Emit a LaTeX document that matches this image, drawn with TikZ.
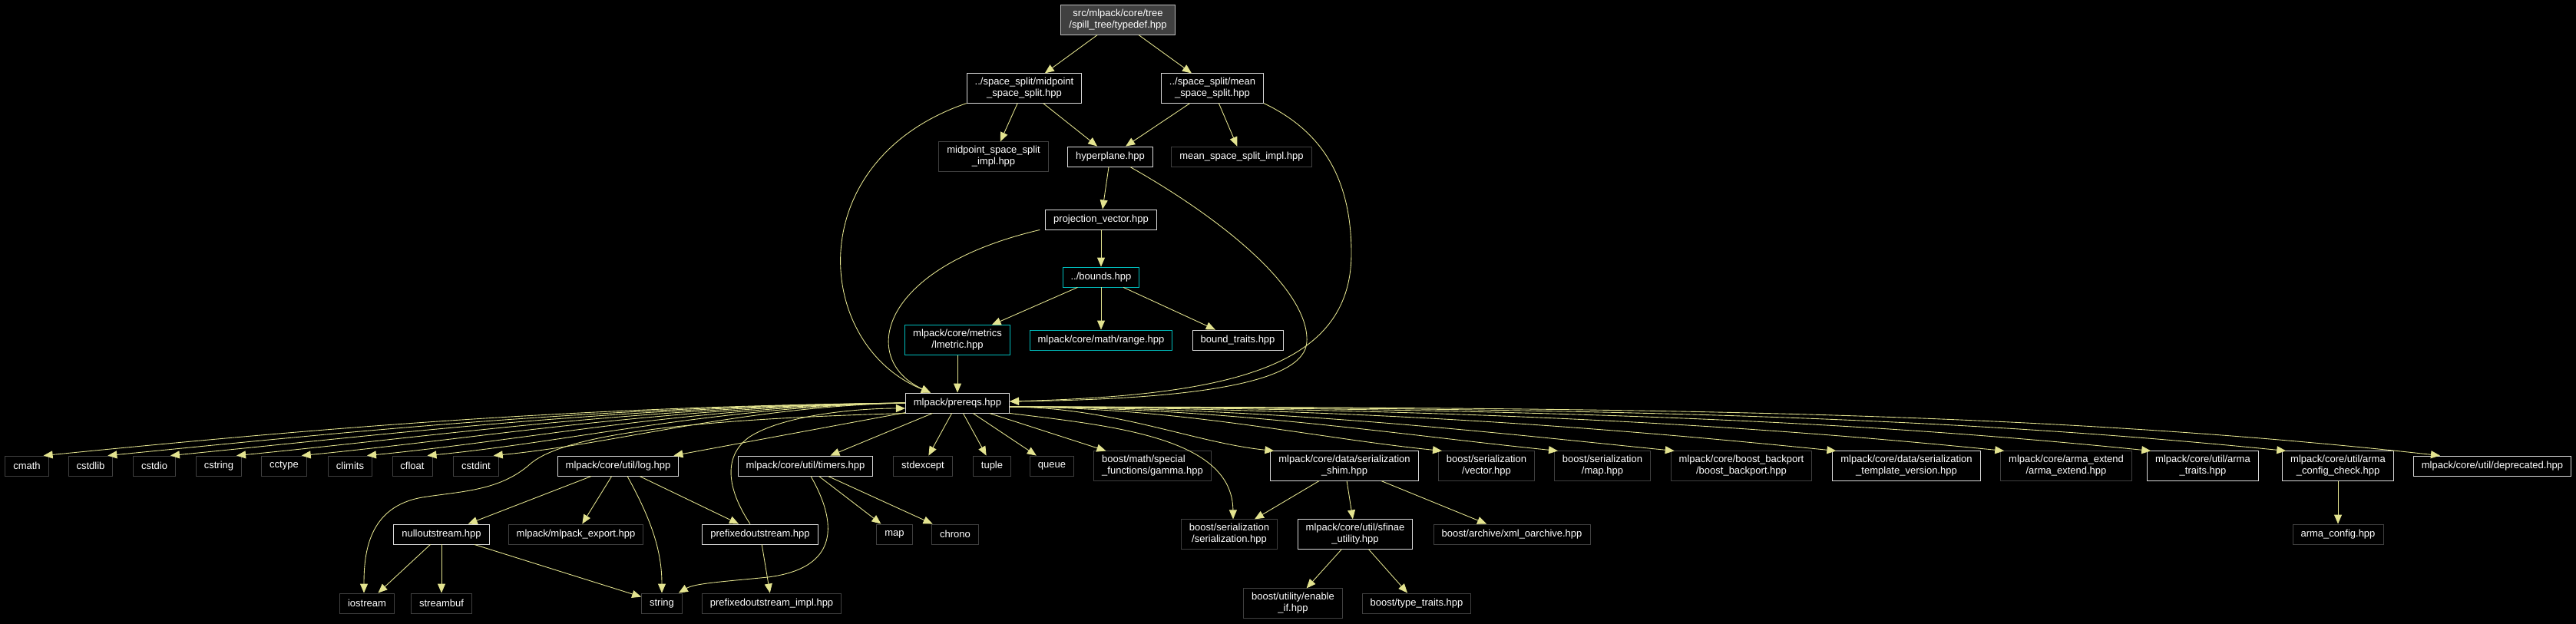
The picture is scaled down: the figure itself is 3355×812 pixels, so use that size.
\documentclass[tikz,border=0pt]{standalone}
\usepackage{fontspec}
\setmainfont{Liberation Sans}
\usepackage{tikz}
\usetikzlibrary{arrows.meta}
\definecolor{EdgeYellow}{HTML}{E3E38F}
\definecolor{DocGrey}{HTML}{D9D9D9}
\definecolor{SysGrey}{HTML}{404040}
\definecolor{RootFill}{HTML}{404040}
\definecolor{LinkCyan}{HTML}{00BDBD}
\tikzset{
  file/.style={draw=DocGrey,line width=0.5pt,fill=black,text=white,
    font=\fontsize{7.4pt}{8.6pt}\selectfont,align=center,
    inner xsep=2.1mm,inner ysep=1.1mm,minimum height=5.2mm},
  sysfile/.style={file,draw=SysGrey},
  linkfile/.style={file,draw=LinkCyan},
  rootfile/.style={file,fill=RootFill,draw=white!75!black},
  edge/.style={draw=EdgeYellow,line width=0.5pt,-{Triangle[length=2.4mm,width=2mm]}}
}
\begin{document}
\begin{tikzpicture}[x=0.2mm,y=-0.2mm]
\useasboundingbox (0,0) rectangle (3355,812);
\fill[black] (-20,-20) rectangle (3375,832);
% upper part
\node[rootfile] (typedef) at (1456,26) {src/mlpack/core/tree\\/spill\_tree/typedef.hpp};
\node[file] (midpoint) at (1334,115) {../space\_split/midpoint\\\_space\_split.hpp};
\node[file] (mean) at (1579,115) {../space\_split/mean\\\_space\_split.hpp};
\node[sysfile] (midimpl) at (1294,204) {midpoint\_space\_split\\\_impl.hpp};
\node[file] (hyperplane) at (1446,204) {hyperplane.hpp};
\node[sysfile] (meanimpl) at (1617,204) {mean\_space\_split\_impl.hpp};
\node[file] (projection) at (1434,286) {projection\_vector.hpp};
\node[linkfile] (bounds) at (1434,361) {../bounds.hpp};
\node[linkfile] (lmetric) at (1247,443) {mlpack/core/metrics\\/lmetric.hpp};
\node[linkfile] (range) at (1434,443) {mlpack/core/math/range.hpp};
\node[file] (btraits) at (1612,443) {bound\_traits.hpp};
\node[file] (prereqs) at (1247,525) {mlpack/prereqs.hpp};
% first row
\node[sysfile] (cmath) at (35,607) {cmath};
\node[sysfile] (cstdlib) at (118,607) {cstdlib};
\node[sysfile] (cstdio) at (201,607) {cstdio};
\node[sysfile] (cstring) at (285,607) {cstring};
\node[sysfile] (cctype) at (370,607) {cctype};
\node[sysfile] (climits) at (456,607) {climits};
\node[sysfile] (cfloat) at (537,607) {cfloat};
\node[sysfile] (cstdint) at (620,607) {cstdint};
\node[file] (log) at (805,607) {mlpack/core/util/log.hpp};
\node[file] (timers) at (1049,607) {mlpack/core/util/timers.hpp};
\node[sysfile] (stdexcept) at (1202,607) {stdexcept};
\node[sysfile] (tuple) at (1292,607) {tuple};
\node[sysfile] (queue) at (1370,607) {queue};
\node[sysfile,align=left] (gamma) at (1501,607) {boost/math/special\\\_functions/gamma.hpp};
\node[file] (shim) at (1751,607) {mlpack/core/data/serialization\\\_shim.hpp};
\node[sysfile] (vector) at (1936,607) {boost/serialization\\/vector.hpp};
\node[sysfile] (bmap) at (2087,607) {boost/serialization\\/map.hpp};
\node[sysfile] (backport) at (2268,607) {mlpack/core/boost\_backport\\/boost\_backport.hpp};
\node[file] (tversion) at (2483,607) {mlpack/core/data/serialization\\\_template\_version.hpp};
\node[sysfile] (armaext) at (2691,607) {mlpack/core/arma\_extend\\/arma\_extend.hpp};
\node[file] (armatraits) at (2869,607) {mlpack/core/util/arma\\\_traits.hpp};
\node[file] (armacheck) at (3045,607) {mlpack/core/util/arma\\\_config\_check.hpp};
\node[file] (deprecated) at (3246,607) {mlpack/core/util/deprecated.hpp};
% second row
\node[file] (nullout) at (575,696) {nulloutstream.hpp};
\node[sysfile] (export) at (750,696) {mlpack/mlpack\_export.hpp};
\node[file] (prefixed) at (990,696) {prefixedoutstream.hpp};
\node[sysfile] (map) at (1165,696) {map};
\node[sysfile] (chrono) at (1244,696) {chrono};
\node[sysfile] (serial) at (1601,696) {boost/serialization\\/serialization.hpp};
\node[file] (sfinae) at (1765,696) {mlpack/core/util/sfinae\\\_utility.hpp};
\node[sysfile] (xmlarch) at (1969,696) {boost/archive/xml\_oarchive.hpp};
\node[sysfile] (armaconfig) at (3045,696) {arma\_config.hpp};
% third row
\node[sysfile] (iostream) at (478,786) {iostream};
\node[sysfile] (streambuf) at (575,786) {streambuf};
\node[sysfile] (string) at (862,786) {string};
\node[sysfile] (prefimpl) at (1005,786) {prefixedoutstream\_impl.hpp};
\node[sysfile] (enableif) at (1684,786) {boost/utility/enable\\\_if.hpp};
\node[sysfile] (typetraits) at (1845,786) {boost/type\_traits.hpp};

% edges of the upper part
\draw[edge] (typedef) -- (midpoint);
\draw[edge] (typedef) -- (mean);
\draw[edge] (midpoint) -- (midimpl);
\draw[edge] (midpoint) -- (hyperplane);
\draw[edge] (mean) -- (hyperplane);
\draw[edge] (mean) -- (meanimpl);
\draw[edge] (hyperplane) -- (projection);
\draw[edge] (projection) -- (bounds);
\draw[edge] (bounds) -- (lmetric);
\draw[edge] (bounds) -- (range);
\draw[edge] (bounds) -- (btraits);
\draw[edge] (lmetric) -- (prereqs);
\draw[edge] (midpoint.south west) .. controls (1040,210) and (1060,450) .. ([xshift=-7mm]prereqs.north);
\draw[edge] ([xshift=-1.4mm]projection.south west) .. controls (1140,350) and (1120,470) .. ([xshift=-7mm]prereqs.north);
\draw[edge] (mean.south east) .. controls (1720,170) and (1760,230) .. (1760,330)
  .. controls (1760,480) and (1600,515) .. ([yshift=0.4mm]prereqs.east);
\draw[edge] ([xshift=-6mm]hyperplane.south east) .. controls (1600,290) and (1705,380) .. (1702,445)
  .. controls (1700,500) and (1550,520) .. ([yshift=0.4mm]prereqs.east);

% edges out of prereqs
\foreach \n/\tx in {cmath/57,cstdlib/141,cstdio/223,cstring/309,cctype/394,climits/479,cfloat/558,cstdint/644}
  \draw[edge] (prereqs.west) .. controls ({1179-0.4*(1179-\tx)},530) and ({\tx+0.3*(1179-\tx)},{594-0.03*(1179-\tx)}) .. ([xshift=-1.4mm]\n.north east);
\foreach \n/\tx in {shim/1658,vector/1877,bmap/2028,backport/2179,tversion/2391,armaext/2610,armatraits/2806,armacheck/2976}
  \draw[edge] ([yshift=-1mm]prereqs.east) .. controls ({1315+0.4*(\tx-1315)},531) and ({\tx-0.3*(\tx-1315)},{587-0.03*(\tx-1315)}) .. ([xshift=1mm]\n.north west);
\draw[edge] ([yshift=-1mm]prereqs.east) .. controls (2060,531) and (2620,532) .. ([xshift=7mm]deprecated.north west);
\foreach \n in {log,timers,stdexcept,tuple,queue,gamma}
  \draw[edge] (prereqs) -- (\n);
\draw[edge] (prereqs.south west) .. controls (950,545) and (740,560) .. (690,605)
  .. controls (650,640) and (600,640) .. (550,648)
  .. controls (480,660) and (474,720) .. ([xshift=-0.8mm]iostream.north);
\draw[edge] (prereqs.south east) .. controls (1450,555) and (1605,570) .. ([xshift=1mm]serial.north);

% lower edges
\draw[edge] (log) -- (nullout);
\draw[edge] (log) -- (export);
\draw[edge] ([xshift=2.4mm]log.south) .. controls (850,680) and (862,720) .. (string.north);
\draw[edge] (log) -- (prefixed);
\draw[edge] (nullout) -- (iostream);
\draw[edge] (nullout) -- (streambuf);
\draw[edge] (nullout) -- (string);
\draw[edge] ([xshift=-2.6mm]prefixed.north) .. controls (955,650) and (935,600) .. (975,570)
  .. controls (1020,540) and (1120,532) .. ([yshift=-1.4mm]prereqs.west);
\draw[edge] (prefixed) -- (prefimpl);
\draw[edge] (timers) -- (map);
\draw[edge] (timers) -- (chrono);
\draw[edge] ([xshift=1.4mm]timers.south) .. controls (1090,680) and (1095,740) .. (1000,752)
  .. controls (940,758) and (905,760) .. ([xshift=-1mm]string.north east);
\draw[edge] (shim) -- (serial);
\draw[edge] (shim) -- (sfinae);
\draw[edge] (shim) -- (xmlarch);
\draw[edge] (sfinae) -- (enableif);
\draw[edge] (sfinae) -- (typetraits);
\draw[edge] (armacheck) -- (armaconfig);
\end{tikzpicture}
\end{document}
